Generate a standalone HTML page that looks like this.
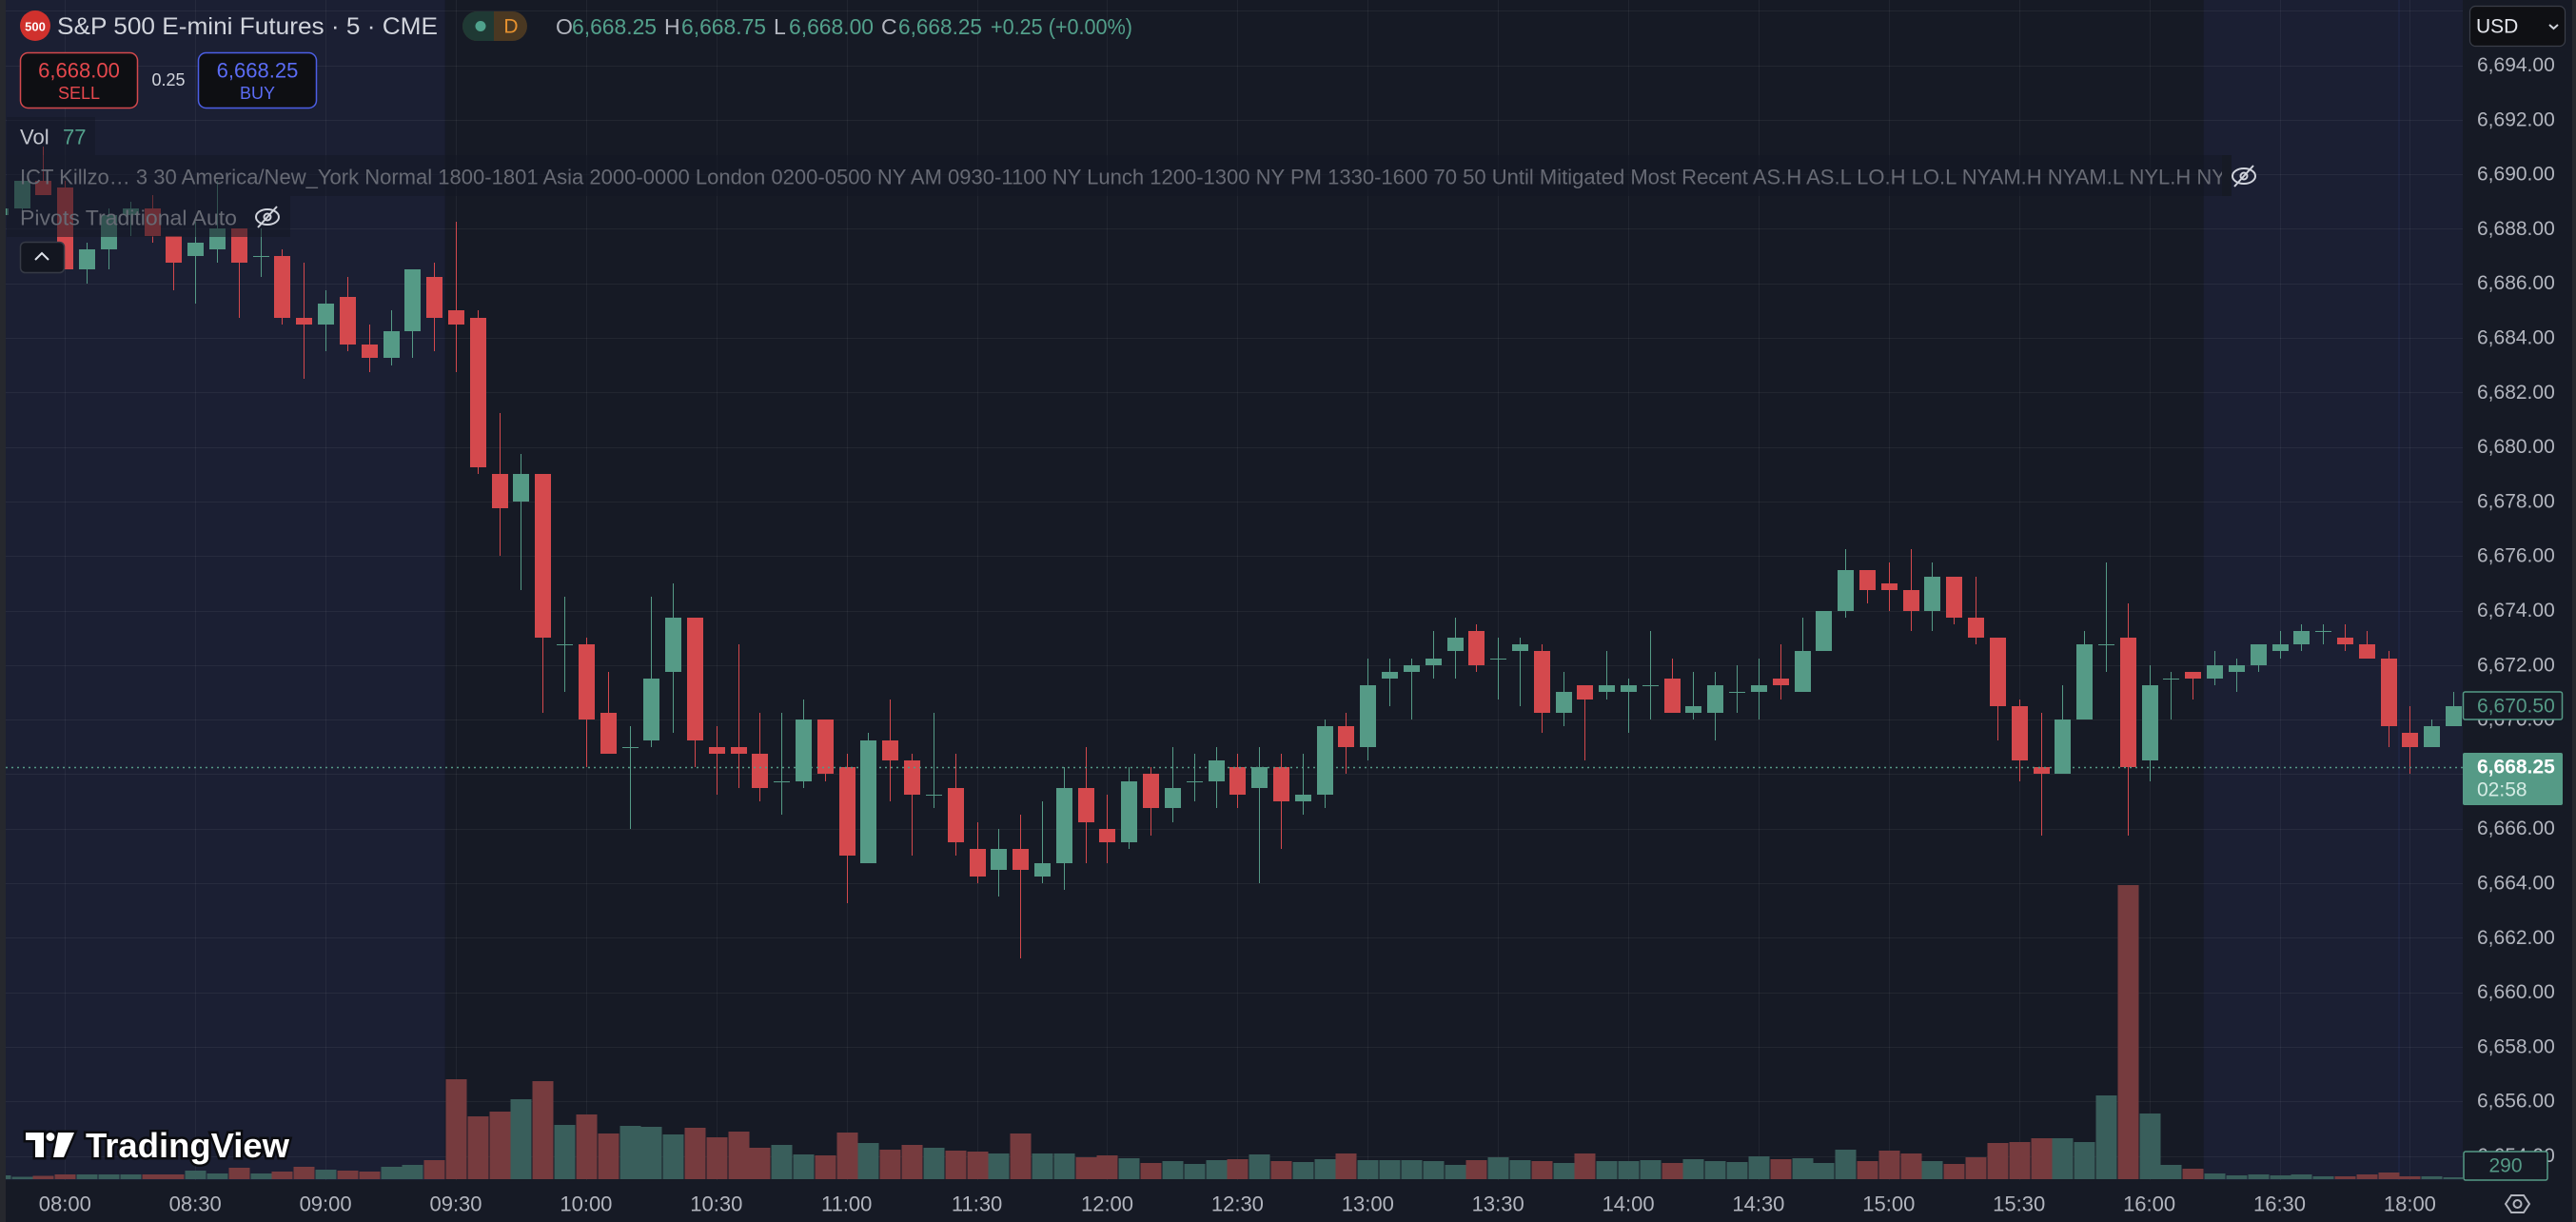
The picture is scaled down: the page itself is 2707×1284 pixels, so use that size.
<!DOCTYPE html>
<html><head><meta charset="utf-8"><style>
html,body{margin:0;padding:0;background:#161A25;width:2707px;height:1284px;overflow:hidden}
svg{display:block}
text{font-family:"Liberation Sans",sans-serif}
</style></head><body>
<svg id="s" width="2707" height="1284" viewBox="0 0 2707 1284" xmlns="http://www.w3.org/2000/svg">
<rect x="0" y="0" width="2707" height="1284" fill="#161A25"/>
<rect x="0" y="0" width="467.6" height="1240" fill="#1B1F33"/>
<rect x="2315.7" y="0" width="272.3" height="1240" fill="#1B1F33"/>
<line x1="2521" y1="0" x2="2521" y2="1240" stroke="#22284E" stroke-width="1"/>
<g id="grid" shape-rendering="crispEdges"></g>
<g id="vol" shape-rendering="crispEdges"></g>
<g id="candles" shape-rendering="crispEdges"></g>
<line x1="0" y1="806.5" x2="2588" y2="806.5" stroke="#559A86" stroke-width="1.5" stroke-dasharray="2 4"/>

<!-- legend boxes -->
<rect x="7" y="123" width="93" height="40" fill="rgba(20,23,36,0.45)"/>
<rect x="7" y="163" width="2328" height="43" fill="rgba(20,23,36,0.55)"/>
<rect x="7" y="206" width="298" height="43" fill="rgba(20,23,36,0.55)"/>

<!-- header -->
<circle cx="37" cy="27" r="16" fill="#D0312D"/>
<text x="37" y="28" font-size="13" font-weight="bold" fill="#fff" text-anchor="middle" dominant-baseline="central">500</text>
<text x="60" y="28" font-size="25" fill="#D1D4DC" dominant-baseline="central" textLength="400" lengthAdjust="spacingAndGlyphs">S&amp;P 500 E-mini Futures · 5 · CME</text>
<rect x="486" y="12" width="68" height="31" rx="15.5" fill="#4A3822"/>
<path d="M519,12 H501.5 A15.5,15.5 0 0 0 501.5,43 H519 Z" fill="#1F3934"/>
<circle cx="505" cy="27.5" r="5.5" fill="#4FA28C"/>
<text x="537" y="28" font-size="21" fill="#E8922F" text-anchor="middle" dominant-baseline="central">D</text>
<g font-size="23" dominant-baseline="central">
<text x="584" y="28" fill="#B2B5BE">O</text>
<text x="601" y="28" fill="#53A08B" textLength="89" lengthAdjust="spacingAndGlyphs">6,668.25</text>
<text x="698" y="28" fill="#B2B5BE">H</text>
<text x="716" y="28" fill="#53A08B" textLength="89" lengthAdjust="spacingAndGlyphs">6,668.75</text>
<text x="813" y="28" fill="#B2B5BE">L</text>
<text x="829" y="28" fill="#53A08B" textLength="89" lengthAdjust="spacingAndGlyphs">6,668.00</text>
<text x="926" y="28" fill="#B2B5BE">C</text>
<text x="944" y="28" fill="#53A08B" textLength="88" lengthAdjust="spacingAndGlyphs">6,668.25</text>
<text x="1041" y="28" fill="#53A08B" textLength="149" lengthAdjust="spacingAndGlyphs">+0.25 (+0.00%)</text>
</g>
<rect x="21.5" y="55.5" width="123" height="58" rx="8" fill="#0E0F13" stroke="#D4494D" stroke-width="1.5"/>
<text x="83" y="74" font-size="22" fill="#E5484D" text-anchor="middle" dominant-baseline="central">6,668.00</text>
<text x="83" y="98" font-size="18" fill="#E5484D" text-anchor="middle" dominant-baseline="central">SELL</text>
<text x="177" y="84" font-size="18" fill="#D1D4DC" text-anchor="middle" dominant-baseline="central">0.25</text>
<rect x="208.5" y="55.5" width="124" height="58" rx="8" fill="#0E0F13" stroke="#4C5FE6" stroke-width="1.5"/>
<text x="270.5" y="74" font-size="22" fill="#5B6CF5" text-anchor="middle" dominant-baseline="central">6,668.25</text>
<text x="270.5" y="98" font-size="18" fill="#5B6CF5" text-anchor="middle" dominant-baseline="central">BUY</text>
<text x="21" y="144" font-size="22" fill="#C3C6CE" dominant-baseline="central">Vol</text>
<text x="66" y="144" font-size="22" fill="#53A08B" dominant-baseline="central">77</text>
<text x="21" y="186" font-size="22" fill="#676A74" dominant-baseline="central" textLength="2318" lengthAdjust="spacingAndGlyphs">ICT Killzo…  3 30 America/New_York Normal 1800-1801 Asia 2000-0000 London 0200-0500 NY AM 0930-1100 NY Lunch 1200-1300 NY PM 1330-1600 70 50 Until Mitigated Most Recent AS.H AS.L LO.H LO.L NYAM.H NYAM.L NYL.H NY</text>
<rect x="2335" y="163" width="10" height="43" fill="#161A25"/>
<g fill="none" stroke="#D1D4DC" stroke-width="2">
<ellipse cx="2358" cy="185" rx="12" ry="8"/><circle cx="2358" cy="185" r="3.5"/><line x1="2348" y1="196" x2="2368" y2="174"/>
<ellipse cx="281" cy="228" rx="12" ry="8"/><circle cx="281" cy="228" r="3.5"/><line x1="271" y1="239" x2="291" y2="217"/>
</g>
<text x="21" y="229" font-size="22" fill="#676A74" dominant-baseline="central" textLength="228" lengthAdjust="spacingAndGlyphs">Pivots Traditional Auto</text>
<rect x="21.5" y="254.5" width="46" height="32" rx="5" fill="#131620" stroke="#363A45" stroke-width="1.5"/>
<polyline points="37,273 44,266 51,273" fill="none" stroke="#E0E3EB" stroke-width="2"/>

<!-- logo -->
<g stroke="#0B0C10" stroke-width="5" paint-order="stroke" fill="#fff">
<path d="M27,1190 H46 V1216 H37 V1198 H27 Z"/>
<circle cx="53" cy="1194.5" r="4.5"/>
<path d="M61,1190 H78 L67,1216 H56 Z"/>
<text x="90" y="1216" font-size="36" font-weight="bold" textLength="214" lengthAdjust="spacingAndGlyphs">TradingView</text>
</g>

<!-- price axis -->
<rect x="2588" y="0" width="115" height="1284" fill="#161A25"/>
<g id="paxis" font-size="21" fill="#B2B5BE"></g>
<rect x="2595.5" y="6.5" width="100" height="42" rx="6" fill="#0F1014" stroke="#3A3E48" stroke-width="1.2"/>
<text x="2602" y="28" font-size="21" fill="#E6E8EE" dominant-baseline="central">USD</text>
<polyline points="2679,26 2683.5,30 2688,26" fill="none" stroke="#D1D4DC" stroke-width="2"/>
<rect x="2588.5" y="727" width="104" height="29" rx="2" fill="#161A25" stroke="#559A86" stroke-width="1.5"/>
<text x="2603" y="742" font-size="21" fill="#559A86" dominant-baseline="central">6,670.50</text>
<rect x="2588" y="791" width="105" height="55" rx="2" fill="#559A86"/>
<text x="2603" y="806" font-size="21" font-weight="bold" fill="#FFFFFF" dominant-baseline="central">6,668.25</text>
<text x="2603" y="830" font-size="21" fill="#D6ECE5" dominant-baseline="central">02:58</text>
<rect x="2589" y="1210" width="88" height="30" rx="2" fill="#161A25" stroke="#559A86" stroke-width="1.5"/>
<text x="2633" y="1225" font-size="21" fill="#559A86" text-anchor="middle" dominant-baseline="central">290</text>

<!-- time axis -->
<g id="taxis" font-size="22" fill="#B2B5BE" text-anchor="middle"></g>
<g fill="none" stroke="#B2B5BE" stroke-width="2">
<polygon points="2633,1265 2639,1256 2652,1256 2658,1265 2652,1274 2639,1274"/>
<circle cx="2645.5" cy="1265" r="4"/>
</g>
<rect x="0" y="0" width="6" height="1284" fill="#26282E"/>
<rect x="2703" y="0" width="4" height="1284" fill="#26282E"/>
</svg>
<script>
(function(){
var NS="http://www.w3.org/2000/svg";
var X0=68.3,DX=22.816;
function Y(p){return 240.4+(6688-p)*28.65;}
function X(i){return X0+DX*i;}
function el(parent,tag,attrs,txt){var e=document.createElementNS(NS,tag);for(var k in attrs)e.setAttribute(k,attrs[k]);if(txt!==undefined)e.textContent=txt;parent.appendChild(e);return e;}
var grid=document.getElementById('grid');
for(var p=6654;p<=6696;p+=2){var y=Math.round(Y(p))+0.5;el(grid,'line',{x1:0,y1:y,x2:2588,y2:y,stroke:'rgba(255,255,255,0.055)','stroke-width':1});}
var vx=[];for(var k=0;k<=17;k++)vx.push(6*k);vx.push(108);
vx.forEach(function(i){var x=Math.round(X(i))+0.5;el(grid,'line',{x1:x,y1:0,x2:x,y2:1240,stroke:'rgba(255,255,255,0.05)','stroke-width':1});});
var D=[[-3,6688.5,6689,6688.25,6688.75],[-2,6688.75,6690,6688.5,6689.75],[-1,6689.75,6691,6689.25,6689.25],[0,6689.5,6689.75,6686.5,6686.5],[1,6686.5,6687.5,6686,6687.25],[2,6687.25,6688.75,6686.5,6688.5],[3,6688.5,6689,6687.75,6688.75],[4,6688.75,6689.25,6687.5,6687.75],[5,6687.75,6687.75,6685.75,6686.75],[6,6687,6688.25,6685.25,6687.5],[7,6687.25,6689.75,6686.75,6688],[8,6688,6688,6684.75,6686.75],[9,6687,6688,6686.25,6687],[10,6687,6687.25,6684.5,6684.75],[11,6684.75,6686.75,6682.5,6684.5],[12,6684.5,6685.75,6683.5,6685.25],[13,6685.5,6686.25,6683.5,6683.75],[14,6683.75,6684.5,6682.75,6683.25],[15,6683.25,6685,6683,6684.25],[16,6684.25,6686.5,6683.25,6686.5],[17,6686.25,6686.75,6683.5,6684.75],[18,6685,6688.25,6682.75,6684.5],[19,6684.75,6685,6679,6679.25],[20,6679,6681.25,6676,6677.75],[21,6678,6679.75,6674.75,6679],[22,6679,6679,6670.25,6673],[23,6672.75,6674.5,6671,6672.75],[24,6672.75,6673,6668.25,6670],[25,6670.25,6671.75,6668.75,6668.75],[26,6669,6669.75,6666,6669],[27,6669.25,6674.5,6669,6671.5],[28,6671.75,6675,6669.5,6673.75],[29,6673.75,6673.75,6668.25,6669.25],[30,6669,6669.75,6667.25,6668.75],[31,6669,6672.75,6667.5,6668.75],[32,6668.75,6670.25,6667,6667.5],[33,6667.75,6670.25,6666.5,6667.75],[34,6667.75,6670.75,6667.5,6670],[35,6670,6670,6667.75,6668],[36,6668.25,6668.75,6663.25,6665],[37,6664.75,6669.5,6664.75,6669.25],[38,6669.25,6670.75,6667,6668.5],[39,6668.5,6668.75,6665,6667.25],[40,6667.25,6670.25,6666.75,6667.25],[41,6667.5,6668.75,6665,6665.5],[42,6665.25,6666.25,6664,6664.25],[43,6664.5,6666,6663.5,6665.25],[44,6665.25,6666.5,6661.25,6664.5],[45,6664.25,6667,6664,6664.75],[46,6664.75,6668.25,6663.75,6667.5],[47,6667.5,6669,6664.75,6666.25],[48,6666,6667.25,6664.75,6665.5],[49,6665.5,6668.25,6665.25,6667.75],[50,6668,6668.25,6665.75,6666.75],[51,6666.75,6669,6666.25,6667.5],[52,6667.75,6668.75,6667,6667.75],[53,6667.75,6669,6666.75,6668.5],[54,6668.25,6668.75,6666.75,6667.25],[55,6667.5,6669,6664,6668.25],[56,6668.25,6668.75,6665.25,6667],[57,6667,6668.75,6666.5,6667.25],[58,6667.25,6670,6666.75,6669.75],[59,6669.75,6670.25,6668,6669],[60,6669,6672.25,6668.5,6671.25],[61,6671.5,6672.25,6670.5,6671.75],[62,6671.75,6672.25,6670,6672],[63,6672,6673.25,6671.5,6672.25],[64,6672.5,6673.75,6671.5,6673],[65,6673.25,6673.5,6671.75,6672],[66,6672.25,6673,6670.75,6672.25],[67,6672.5,6673,6670.5,6672.75],[68,6672.5,6672.75,6669.5,6670.25],[69,6670.25,6671.75,6669.75,6671],[70,6671.25,6671.25,6668.5,6670.75],[71,6671,6672.5,6670.75,6671.25],[72,6671,6671.5,6669.5,6671.25],[73,6671.25,6673.25,6670,6671.25],[74,6671.5,6672.25,6670.25,6670.25],[75,6670.25,6671.75,6670,6670.5],[76,6670.25,6671.75,6669.25,6671.25],[77,6671,6672,6670.25,6671],[78,6671,6672.25,6670,6671.25],[79,6671.5,6672.75,6670.75,6671.25],[80,6671,6673.75,6671,6672.5],[81,6672.5,6674,6672.5,6674],[82,6674,6676.25,6673.75,6675.5],[83,6675.5,6675.5,6674.25,6674.75],[84,6675,6675.75,6674,6674.75],[85,6674.75,6676.25,6673.25,6674],[86,6674,6675.75,6673.25,6675.25],[87,6675.25,6675.25,6673.5,6673.75],[88,6673.75,6675.25,6672.75,6673],[89,6673,6673,6669.25,6670.5],[90,6670.5,6670.75,6667.75,6668.5],[91,6668.25,6670.25,6665.75,6668],[92,6668,6671.25,6668,6670],[93,6670,6673.25,6670,6672.75],[94,6672.75,6675.75,6671.75,6672.75],[95,6673,6674.25,6665.75,6668.25],[96,6668.5,6672,6667.75,6671.25],[97,6671.5,6671.75,6670,6671.5],[98,6671.75,6671.75,6670.75,6671.5],[99,6671.5,6672.5,6671.25,6672],[100,6671.75,6672.25,6671,6672],[101,6672,6672.75,6671.75,6672.75],[102,6672.5,6673.25,6672.25,6672.75],[103,6672.75,6673.5,6672.5,6673.25],[104,6673.25,6673.5,6672.75,6673.25],[105,6673,6673.5,6672.5,6672.75],[106,6672.75,6673.25,6672.25,6672.25],[107,6672.25,6672.5,6669,6669.75],[108,6669.5,6670.5,6668,6669],[109,6669,6670,6669,6669.75],[110,6669.75,6671,6669.75,6670.5]];
var V=[4,2.3,3.3,5,5,5,5,5,5,9,6,12,6,8,13,10,9,8,13,15,20,105,66,71,84,103,57,68,48,56,55,47,54,44,50,33,36,26,25,49,38,31,36,33,30,29,27,48,27,27,23,25,22,17,19,16,20,21,26,19,18,21,27,20,20,20,19,15,20,23,20,19,17,27,19,19,20,17,21,19,18,24,21,22,17,31,19,30,27,19,16,23,38,39,43,43,39,88,309,69,15,11,6,4,5,4,5,3,3,5,7,3,3,2];
var vg=document.getElementById('vol'),cg=document.getElementById('candles');
D.forEach(function(d,k){
var i=d[0],o=d[1],h=d[2],l=d[3],c=d[4];var up=c>=o;
var cx=Math.round(X(i));
var vh=V[k];
el(vg,'rect',{x:cx-10.5,y:(1239-vh).toFixed(1),width:21.8,height:vh,fill:up?'#395E5B':'#763B3E'});
var col=up?'#559A86':'#D4494D';
var yh=Math.round(Y(h)),yl=Math.round(Y(l));
el(cg,'rect',{x:cx,y:yh,width:1,height:Math.max(1,yl-yh),fill:col});
var yt=Math.round(Y(Math.max(o,c))),yb=Math.round(Y(Math.min(o,c)));
el(cg,'rect',{x:cx-8,y:yt,width:17,height:Math.max(1,yb-yt),fill:col});
});
var pa=document.getElementById('paxis');
for(var p=6694;p>=6654;p-=2){var s='6,'+String(p-6000)+'.00';el(pa,'text',{x:2603,y:Y(p).toFixed(1),'dominant-baseline':'central'},s);}
var ta=document.getElementById('taxis');
var labs=['08:00','08:30','09:00','09:30','10:00','10:30','11:00','11:30','12:00','12:30','13:00','13:30','14:00','14:30','15:00','15:30','16:00','16:30'];
labs.forEach(function(t,k){el(ta,'text',{x:X(6*k).toFixed(1),y:1265,'dominant-baseline':'central'},t);});
el(ta,'text',{x:X(108).toFixed(1),y:1265,'dominant-baseline':'central'},'18:00');
})();
</script>
</body></html>
